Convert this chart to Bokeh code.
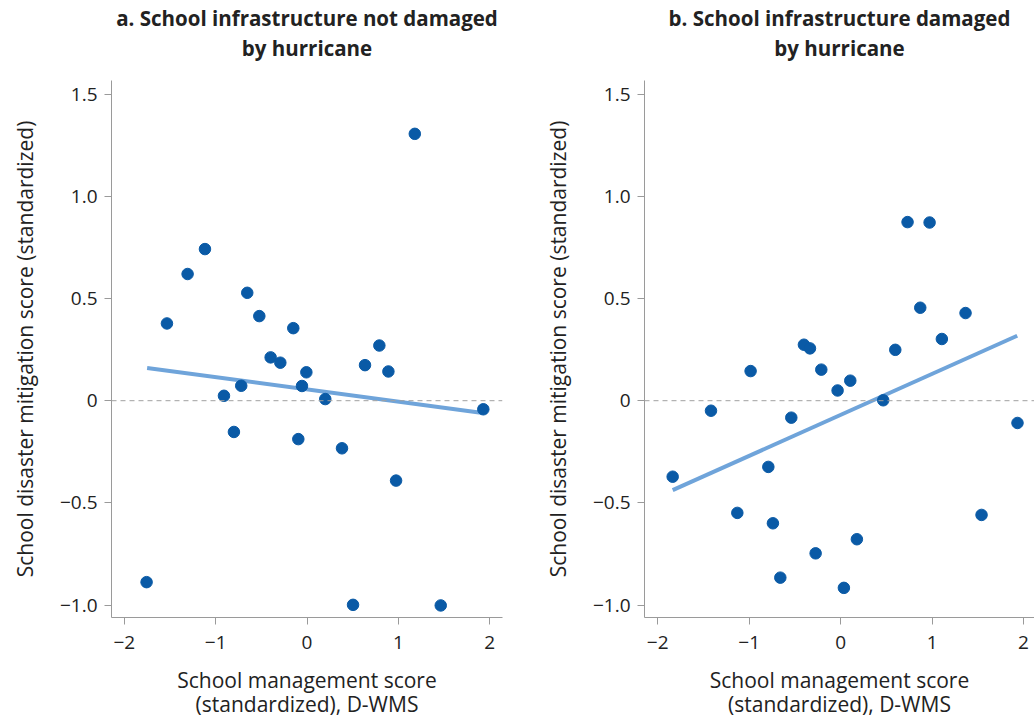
from bokeh.plotting import figure
from bokeh.layouts import row
from bokeh.models import Range1d, FixedTicker, Span, Title
from bokeh.embed import file_html
from bokeh.resources import INLINE

# ---- data ----
a_x = [1.18, -1.117, -1.307, -0.654, -1.533, -0.522, -0.15, 0.792,
       -0.398, -0.292, -0.007, 0.635, 0.891, -0.72, -0.909, -0.055, 0.2,
       1.93, -0.8, -0.095, 0.383, 0.975, -1.756, 0.504, 1.464]
a_y = [1.306, 0.742, 0.62, 0.528, 0.378, 0.414, 0.355, 0.27,
       0.212, 0.186, 0.139, 0.174, 0.143, 0.073, 0.024, 0.072, 0.008,
       -0.042, -0.153, -0.188, -0.233, -0.391, -0.888, -0.999, -1.002]
a_fit_x = [-1.75, 1.924]
a_fit_y = [0.16, -0.06]

b_x = [0.732, 0.973, 0.871, 1.366, 1.107, -0.401, -0.335, 0.598,
       -0.984, -0.211, 0.106, -0.033, 0.466, -1.417, -0.539, 1.934,
       -0.79, -1.836, -1.129, 1.541, -0.74, 0.178, -0.273, -0.659, 0.036]
b_y = [0.874, 0.872, 0.455, 0.429, 0.302, 0.274, 0.256, 0.249,
       0.145, 0.152, 0.098, 0.05, 0.002, -0.049, -0.083, -0.109,
       -0.324, -0.372, -0.549, -0.559, -0.6, -0.678, -0.747, -0.866, -0.916]
b_fit_x = [-1.836, 1.931]
b_fit_y = [-0.438, 0.318]

titles = [("a. School infrastructure not damaged", "by hurricane"),
          ("b. School infrastructure damaged", "by hurricane")]
x_label = "School management score\n(standardized), D-WMS"
y_label = "School disaster mitigation score (standardized)"

x_ticks = [-2, -1, 0, 1, 2]
x_tick_labels = ["\u22122", "\u22121", "0", "1", "2"]
y_ticks = [-1.0, -0.5, 0, 0.5, 1.0, 1.5]
y_tick_labels = ["\u22121.0", "\u22120.5", "0", "0.5", "1.0", "1.5"]

FONT = "Open Sans"
DOT = "#0A5AA6"
FIT = "#6FA4DA"
AXIS = "#9a9a9a"
TXT = "#222222"


def make_panel(title, xs, ys, fx, fy, width, border_left, border_right, x_range):
    p = figure(width=width, height=721, output_backend="svg", toolbar_location=None,
               title=None,
               x_range=Range1d(*x_range), y_range=Range1d(-1.061, 1.567),
               min_border_left=border_left, min_border_right=border_right,
               min_border_top=80, min_border_bottom=104)
    p.outline_line_color = None
    p.grid.visible = False
    p.background_fill_color = "white"
    p.border_fill_color = "white"

    spacer = Title(text=" ", text_font_size="10px", standoff=6)
    t2 = Title(text=title[1], align="center", text_font=FONT, text_font_style="bold",
               text_font_size="20.5px", text_color=TXT, standoff=0,
               text_line_height=0.86)
    t1 = Title(text=title[0], align="center", text_font=FONT, text_font_style="bold",
               text_font_size="20.5px", text_color=TXT, standoff=0,
               text_line_height=0.86)
    p.add_layout(spacer, "above")
    p.add_layout(t2, "above")
    p.add_layout(t1, "above")

    p.add_layout(Span(location=0, dimension="width", line_color="#a0a0a0",
                      line_dash="5 4", line_width=1))
    p.line(fx, fy, line_color=FIT, line_width=4)
    p.scatter(xs, ys, size=11.5, fill_color=DOT, line_color=DOT)

    for ax in (p.xaxis[0], p.yaxis[0]):
        ax.axis_line_color = AXIS
        ax.major_tick_line_color = AXIS
        ax.minor_tick_line_color = None
        ax.major_tick_in = 0
        ax.major_tick_out = 7
        ax.major_label_text_font = FONT
        ax.major_label_text_font_size = "19px"
        ax.major_label_text_color = TXT
        ax.axis_label_text_font = FONT
        ax.axis_label_text_font_size = "21px"
        ax.axis_label_text_font_style = "normal"
        ax.axis_label_text_color = TXT

    p.xaxis.ticker = FixedTicker(ticks=x_ticks)
    p.xaxis.major_label_overrides = dict(zip(x_ticks, x_tick_labels))
    p.xaxis.axis_label = x_label
    p.xaxis.major_label_standoff = 11
    p.xaxis.axis_label_standoff = 14
    p.xaxis.major_label_text_line_height = 0.9
    p.xaxis.axis_label_text_line_height = 0.875

    p.yaxis.ticker = FixedTicker(ticks=y_ticks)
    p.yaxis.major_label_overrides = dict(zip(y_ticks, y_tick_labels))
    p.yaxis.axis_label = y_label
    p.yaxis.major_label_standoff = 7
    p.yaxis.axis_label_standoff = 18
    return p


p1 = make_panel(titles[0], a_x, a_y, a_fit_x, a_fit_y, 520, 111, 18, (-2.14, 2.14))
p2 = make_panel(titles[1], b_x, b_y, b_fit_x, b_fit_y, 514, 124, 0, (-2.144, 2.12))

layout = row(p1, p2)
open("out.html", "w").write(file_html(layout, INLINE))
